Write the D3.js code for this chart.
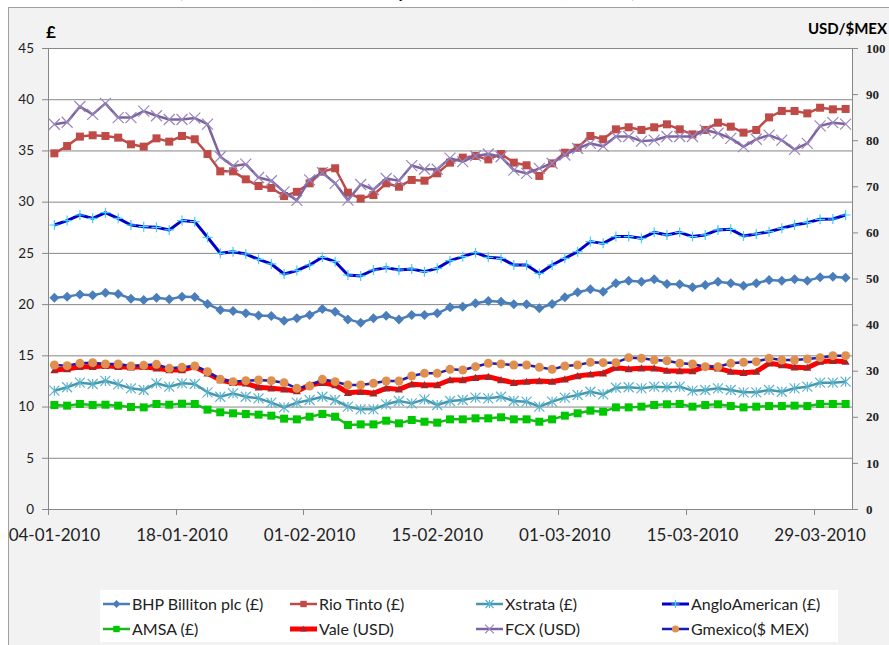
<!DOCTYPE html>
<html>
<head>
<meta charset="utf-8">
<script src="https://cdn.jsdelivr.net/npm/d3@7"></script>
<style>
  body { margin: 0; background: #fff; }
  svg { display: block; }
</style>
</head>
<body>
<svg id="chart" width="889" height="645"></svg>
<script>
// trading days, 04-01-2010 .. 31-03-2010
const dates = [
  "04-01-2010","05-01-2010","06-01-2010","07-01-2010","08-01-2010",
  "11-01-2010","12-01-2010","13-01-2010","14-01-2010","15-01-2010",
  "18-01-2010","19-01-2010","20-01-2010","21-01-2010","22-01-2010",
  "25-01-2010","26-01-2010","27-01-2010","28-01-2010","29-01-2010",
  "01-02-2010","02-02-2010","03-02-2010","04-02-2010","05-02-2010",
  "08-02-2010","09-02-2010","10-02-2010","11-02-2010","12-02-2010",
  "15-02-2010","16-02-2010","17-02-2010","18-02-2010","19-02-2010",
  "22-02-2010","23-02-2010","24-02-2010","25-02-2010","26-02-2010",
  "01-03-2010","02-03-2010","03-03-2010","04-03-2010","05-03-2010",
  "08-03-2010","09-03-2010","10-03-2010","11-03-2010","12-03-2010",
  "15-03-2010","16-03-2010","17-03-2010","18-03-2010","19-03-2010",
  "22-03-2010","23-03-2010","24-03-2010","25-03-2010","26-03-2010",
  "29-03-2010","30-03-2010","31-03-2010"
];
const dateLabels = ["04-01-2010","18-01-2010","01-02-2010","15-02-2010","01-03-2010","15-03-2010","29-03-2010"];
const leftTicks = [0, 5, 10, 15, 20, 25, 30, 35, 40, 45];
const rightTicks = [0, 10, 20, 30, 40, 50, 60, 70, 80, 90, 100];

// £ series (left axis)
const bhp = [20.63,20.73,20.95,20.86,21.12,20.99,20.53,20.40,20.63,20.47,20.73,20.70,20.01,19.43,19.33,19.10,18.90,18.84,18.38,18.63,
  18.94,19.52,19.26,18.51,18.19,18.61,18.87,18.51,18.94,18.94,
  19.10,19.69,19.75,20.08,20.30,20.24,19.98,19.98,19.59,20.01,
  20.67,21.15,21.44,21.21,22.03,22.29,22.19,22.42,21.96,21.93,
  21.64,21.87,22.19,22.03,21.80,22.03,22.35,22.29,22.42,22.29,
  22.61,22.68,22.58];
const rio = [34.72,35.43,36.35,36.48,36.41,36.25,35.60,35.37,36.18,35.86,36.41,36.09,34.65,32.96,32.96,32.18,31.53,31.34,30.55,30.96,
  31.79,32.93,33.26,30.88,30.30,30.65,31.79,31.46,32.12,32.05,
  32.77,33.81,34.30,34.46,34.13,34.65,33.81,33.55,32.51,33.74,
  34.78,35.27,36.41,36.09,37.06,37.26,37.00,37.26,37.55,37.06,
  36.57,37.00,37.71,37.32,36.74,37.00,38.23,38.85,38.85,38.62,
  39.17,39.01,39.05];
const xstrata = [11.55,11.88,12.33,12.20,12.50,12.17,11.78,11.62,12.27,11.94,12.27,12.20,11.39,10.96,11.29,10.96,10.80,10.38,9.92,10.38,
  10.64,10.96,10.64,9.99,9.73,9.73,10.22,10.54,10.31,10.70,
  10.15,10.54,10.64,10.87,10.80,10.96,10.54,10.48,9.99,10.48,
  10.87,11.13,11.45,11.19,11.84,11.88,11.78,11.94,11.88,11.94,
  11.55,11.62,11.78,11.62,11.39,11.39,11.62,11.45,11.78,11.94,
  12.33,12.33,12.43];
const anglo = [27.72,28.15,28.70,28.37,28.93,28.37,27.72,27.56,27.50,27.24,28.15,28.05,26.52,24.96,25.12,24.89,24.37,23.92,22.94,23.27,
  23.82,24.57,24.14,22.84,22.75,23.33,23.56,23.33,23.43,23.17,
  23.49,24.24,24.63,25.02,24.57,24.47,23.82,23.82,23.00,23.82,
  24.47,25.12,26.10,25.93,26.59,26.59,26.42,27.01,26.75,27.01,
  26.59,26.75,27.24,27.30,26.65,26.85,27.07,27.40,27.72,27.95,
  28.28,28.31,28.70];
const amsa = [10.15,10.09,10.25,10.15,10.18,10.09,9.96,9.92,10.25,10.18,10.28,10.25,9.70,9.44,9.34,9.27,9.21,9.11,8.82,8.75,
  9.01,9.27,9.01,8.20,8.26,8.26,8.62,8.36,8.69,8.52,
  8.43,8.75,8.75,8.85,8.85,8.95,8.75,8.75,8.52,8.75,
  9.11,9.34,9.60,9.50,9.92,9.92,9.99,10.15,10.22,10.25,
  9.99,10.15,10.22,10.05,9.92,9.99,10.05,10.05,10.09,10.05,
  10.25,10.25,10.25];

// USD / $MEX series (right axis)
const vale = [30.15,30.37,30.87,30.87,31.09,30.87,30.73,30.87,30.51,30.15,30.15,30.87,29.43,27.98,27.40,27.26,26.39,26.17,25.95,25.56,
  26.90,27.40,26.90,25.23,25.45,25.10,26.17,25.95,27.05,26.90,
  26.90,27.98,27.98,28.48,28.70,27.98,27.40,27.62,27.77,27.62,
  28.13,28.85,29.20,29.43,30.66,30.37,30.51,30.51,30.01,29.93,
  29.93,30.87,30.51,29.79,29.57,29.79,31.60,31.24,30.73,30.66,
  31.96,32.17,31.96];
const fcx = [83.45,83.90,87.30,85.60,88.00,84.90,84.90,86.30,85.30,84.50,84.50,84.80,83.50,76.40,74.40,74.80,71.90,71.20,68.80,66.95,
  71.40,72.95,70.65,67.00,70.40,69.30,71.70,71.20,74.50,73.70,
  73.70,76.10,75.35,76.60,77.00,76.40,73.50,72.80,73.90,75.00,
  76.80,78.20,79.30,78.70,80.80,80.80,79.80,80.00,80.80,80.80,
  80.80,82.20,81.50,80.40,78.60,80.20,81.10,80.00,78.00,79.30,
  83.10,83.80,83.50];
const gmexico = [31.24,31.10,31.60,31.74,31.45,31.45,31.02,31.16,31.38,30.51,30.73,31.02,29.79,28.13,27.62,27.84,27.98,27.84,27.40,26.17,
  26.68,28.13,27.62,26.90,26.90,27.26,27.77,27.77,28.85,29.43,
  29.43,30.29,30.15,30.87,31.60,31.45,31.24,31.24,30.73,30.29,
  31.02,31.24,31.81,31.74,31.74,32.83,32.68,32.32,32.17,31.60,
  31.45,30.87,30.87,31.60,31.81,31.96,32.68,32.32,32.32,32.54,
  32.83,33.26,33.26];

const seriesNames = ["BHP Billiton plc (£)", "Rio Tinto (£)", "Xstrata (£)", "AngloAmerican  (£)",
                     "AMSA (£)", "Vale (USD)", "FCX (USD)", "Gmexico($ MEX)"];

const svg = d3.select("#chart");
const font = "Lato, 'Open Sans', sans-serif";

// plot box
const plotL = 48, plotR = 852, plotT = 48, plotB = 509;

const x = d3.scaleBand().domain(dates).range([plotL, plotR]);
const yL = d3.scaleLinear().domain([0, 45]).range([plotB, plotT]);
const yR = d3.scaleLinear().domain([0, 100]).range([plotB, plotT]);
const cx = d => x(d) + x.bandwidth() / 2;

// title (mostly cropped off the top, as in the source screenshot)
svg.append("text")
    .attr("x", 407).attr("y", -3)
    .attr("text-anchor", "middle")
    .style("font-family", font).style("font-size", "24px")
    .text("(Share Values, January 4 to March 31, 2010)");

// chart area
svg.append("rect")
    .attr("x", 8.5).attr("y", 7.5).attr("width", 900).attr("height", 700)
    .attr("fill", "#f2f2f2").attr("stroke", "#a0a0a0");

svg.append("rect")
    .attr("x", plotL).attr("y", plotT).attr("width", plotR - plotL).attr("height", plotB - plotT)
    .attr("fill", "#fff");

// gridlines
svg.append("g")
    .attr("transform", `translate(${plotL},0)`)
    .call(d3.axisLeft(yL).tickValues(leftTicks.slice(1)).tickSize(-(plotR - plotL)).tickFormat(""))
    .call(g => g.select(".domain").remove())
    .call(g => g.selectAll("line").attr("stroke", "#878787"));

// left axis
svg.append("g")
    .attr("transform", `translate(${plotL},0)`)
    .call(d3.axisLeft(yL).tickValues(leftTicks).tickSize(6).tickPadding(8))
    .call(g => g.select(".domain").attr("stroke", "#878787"))
    .call(g => g.selectAll("line").attr("stroke", "#878787"))
    .call(g => g.selectAll("text").style("font-family", font).style("font-size", "13.5px").attr("fill", "#222"));

// right axis
svg.append("g")
    .attr("transform", `translate(${plotR},0)`)
    .call(d3.axisRight(yR).tickValues(rightTicks).tickSize(6).tickPadding(8))
    .call(g => g.select(".domain").attr("stroke", "#878787"))
    .call(g => g.selectAll("line").attr("stroke", "#878787"))
    .call(g => g.selectAll("text").style("font-family", "'Liberation Serif', serif")
        .style("font-size", "13px").style("font-weight", "bold").attr("fill", "#222"));

// bottom axis: labels on categories, ticks between categories
svg.append("line")
    .attr("x1", plotL).attr("x2", plotR).attr("y1", plotB + 0.5).attr("y2", plotB + 0.5)
    .attr("stroke", "#878787");
svg.append("g").selectAll("line")
    .data(dateLabels)
    .enter().append("line")
    .attr("x1", d => Math.round(x(d)) + 0.5).attr("x2", d => Math.round(x(d)) + 0.5)
    .attr("y1", plotB).attr("y2", plotB + 6)
    .attr("stroke", "#878787");
svg.append("g")
    .attr("transform", `translate(0,${plotB})`)
    .call(d3.axisBottom(x).tickValues(dateLabels).tickSize(0).tickPadding(20))
    .call(g => g.select(".domain").remove())
    .call(g => g.selectAll("text").style("font-family", font).style("font-size", "17px").attr("fill", "#222"));

// axis titles
svg.append("text").attr("x", 46).attr("y", 38)
    .style("font-family", font).style("font-size", "17px").style("font-weight", "bold")
    .text("£");
svg.append("text").attr("x", 887).attr("y", 34).attr("text-anchor", "end")
    .style("font-family", font).style("font-size", "15px").style("font-weight", "bold")
    .text("USD/$MEX");

// marker shapes
function marker(g, type, color, size) {
  const s = size / 2;
  if (type === "diamond") {
    g.append("path").attr("d", `M0,${-s}L${s},0L0,${s}L${-s},0Z`).attr("fill", color);
  } else if (type === "square") {
    g.append("rect").attr("x", -s).attr("y", -s).attr("width", size).attr("height", size).attr("fill", color);
  } else if (type === "triangle") {
    g.append("path").attr("d", `M0,${-s}L${s},${s * 0.8}L${-s},${s * 0.8}Z`).attr("fill", color);
  } else if (type === "circle") {
    g.append("circle").attr("r", s).attr("fill", color);
  } else if (type === "plus") {
    g.append("path").attr("d", `M${-s},0H${s}M0,${-s}V${s}`).attr("stroke", color).attr("stroke-width", 1.2);
  } else if (type === "cross") {
    g.append("path").attr("d", `M${-s},${-s}L${s},${s}M${-s},${s}L${s},${-s}`).attr("stroke", color).attr("stroke-width", 1.2);
  } else if (type === "star") {
    g.append("path").attr("d", `M${-s},${-s}L${s},${s}M${-s},${s}L${s},${-s}M0,${-s}V${s}`).attr("stroke", color).attr("stroke-width", 1.2);
  }
}

const series = [
  { name: seriesNames[0], values: bhp,     y: yL, line: "#4a7ebb", width: 2.5, mark: "diamond",  mcol: "#4a7ebb", msize: 10 },
  { name: seriesNames[1], values: rio,     y: yL, line: "#be4b48", width: 2.5, mark: "square",   mcol: "#be4b48", msize: 8 },
  { name: seriesNames[2], values: xstrata, y: yL, line: "#4697ad", width: 2.5, mark: "star",     mcol: "#5bb4cc", msize: 10 },
  { name: seriesNames[3], values: anglo,   y: yL, line: "#0000c8", width: 3,   mark: "plus",     mcol: "#3fd0ff", msize: 10 },
  { name: seriesNames[4], values: amsa,    y: yL, line: "#1fb51f", width: 2.5, mark: "square",   mcol: "#00c800", msize: 8 },
  { name: seriesNames[5], values: vale,    y: yR, line: "#ff0000", width: 5,   mark: "triangle", mcol: "#a0262a", msize: 8 },
  { name: seriesNames[6], values: fcx,     y: yR, line: "#7b63a0", width: 2.5, mark: "cross",    mcol: "#9a86bd", msize: 11 },
  { name: seriesNames[7], values: gmexico, y: yR, line: "#1a1ab4", width: 2.5, mark: "circle",   mcol: "#e0904e", msize: 9 }
];

series.forEach(s => {
  const line = d3.line().x((v, i) => cx(dates[i])).y(v => s.y(v));
  svg.append("path").datum(s.values)
      .attr("fill", "none").attr("stroke", s.line).attr("stroke-width", s.width)
      .attr("stroke-linejoin", "round").attr("d", line);
  svg.append("g").selectAll("g")
      .data(s.values)
      .enter().append("g")
      .attr("transform", (v, i) => `translate(${cx(dates[i])},${s.y(v)})`)
      .each(function() { marker(d3.select(this), s.mark, s.mcol, s.msize); });
});

// legend
svg.append("rect").attr("x", 100).attr("y", 590).attr("width", 738).attr("height", 52).attr("fill", "#fff");
const legX = [103, 290, 476, 662];
const legY = [604, 629];
const leg = svg.append("g");
series.forEach((s, i) => {
  const lx = legX[i % 4], ly = legY[Math.floor(i / 4)];
  const g = leg.append("g").attr("transform", `translate(${lx},${ly})`);
  g.append("line").attr("x1", 0).attr("x2", 27).attr("stroke", s.line).attr("stroke-width", s.width);
  marker(g.append("g").attr("transform", "translate(13.5,0)"), s.mark, s.mcol, s.msize * 0.8);
  g.append("text").attr("x", 29).attr("y", 0).attr("dy", "0.35em")
      .style("font-family", font).style("font-size", "16px").attr("fill", "#222")
      .text(s.name);
});
</script>
</body>
</html>
